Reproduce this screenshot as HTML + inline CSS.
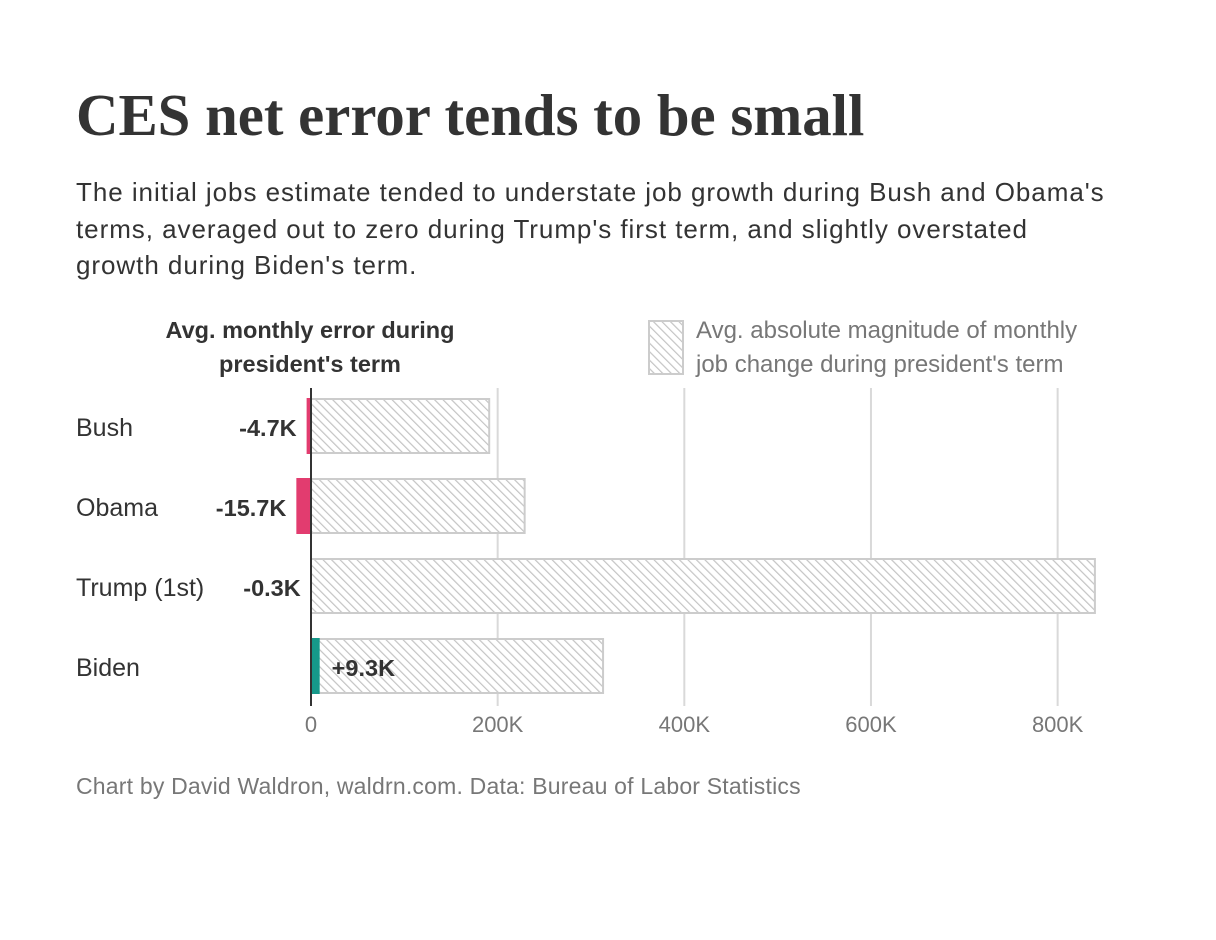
<!DOCTYPE html>
<html><head><meta charset="utf-8"><style>
body{margin:0;background:#fff;width:1216px;height:940px;overflow:hidden;font-family:"Liberation Sans",sans-serif}
#t{position:absolute;left:76px;top:82px;font-family:"Liberation Serif",serif;font-weight:bold;font-size:58.8px;color:#333;margin:0;white-space:nowrap}
#s{position:absolute;left:76px;top:174px;font-size:26px;letter-spacing:0.95px;line-height:36.5px;color:#333;white-space:nowrap}
#c{position:absolute;left:0;top:0}
#f{position:absolute;left:76px;top:773px;font-size:23px;letter-spacing:0.2px;color:#777;white-space:nowrap}
</style></head><body>
<h1 id="t">CES net error tends to be small</h1>
<div id="s">The initial jobs estimate tended to understate job growth during Bush and Obama's<br>terms, averaged out to zero during Trump's first term, and slightly overstated<br>growth during Biden's term.</div>
<svg id="c" width="1216" height="940" font-family="Liberation Sans, sans-serif">
<defs><pattern id="h" width="6" height="6" patternUnits="userSpaceOnUse" patternTransform="rotate(-45)"><rect width="6" height="6" fill="#fff"/><line x1="0" y1="0" x2="0" y2="6" stroke="#c4c4c4" stroke-width="2.4"/></pattern></defs>
<g id="g"></g>
</svg>
<div id="f">Chart by David Waldron, waldrn.com. Data: Bureau of Labor Statistics</div>
<script>
const categories=["Bush","Obama","Trump (1st)","Biden"];
const magnitude=[192,230,841,314];
const netError=[-4.7,-15.7,-0.3,9.3];
const errorLabels=["-4.7K","-15.7K","-0.3K","+9.3K"];
const ticks=[0,200,400,600,800];
const tickLabels=["0","200K","400K","600K","800K"];
const NS="http://www.w3.org/2000/svg",g=document.getElementById('g');
const x=v=>311+v*0.9333;
const y=i=>398+i*80;
function mk(t,a,txt){const e=document.createElementNS(NS,t);for(const k in a)e.setAttribute(k,a[k]);if(txt!=null)e.textContent=txt;g.appendChild(e);return e;}
ticks.forEach((t,i)=>{
 if(i>0){const l=mk('line',{x1:x(t),x2:x(t),y1:388,y2:706,stroke:'#d9d9d9','stroke-width':2});
 
 }
 const tx=mk('text',{x:x(t),y:732,'text-anchor':'middle','font-size':22,fill:'#777'},tickLabels[i]);
 
 
});
categories.forEach((c,i)=>{
 const b=mk('rect',{x:x(0),y:y(i)+1,width:x(magnitude[i])-x(0)-1,height:54,fill:'url(#h)',stroke:'#ccc','stroke-width':2});
 
 
 const v=netError[i],x0=Math.min(x(0),x(v)),w=Math.abs(x(v)-x(0));
 const e=mk('rect',{x:x0,y:y(i),width:w,height:56,fill:v<0?'#e23c6f':'#16998a'});
 
 
 const lab=mk('text',{x:76,y:y(i)+38,'font-size':25,fill:'#333'},c);
 
 
 const vl=v<0?mk('text',{x:x0-10,y:y(i)+38,'font-size':23.5,'font-weight':'bold',fill:'#333','text-anchor':'end'},errorLabels[i])
            :mk('text',{x:x(v)+12,y:y(i)+38,'font-size':23.5,'font-weight':'bold',fill:'#333'},errorLabels[i]);
 
 
});
const ax=mk('line',{x1:311,x2:311,y1:388,y2:706,stroke:'#333','stroke-width':2});


const l1=mk('text',{x:310,y:338,'font-size':23.5,'font-weight':'bold',fill:'#333','text-anchor':'middle'},'Avg. monthly error during');


const l2=mk('text',{x:310,y:372,'font-size':23.5,'font-weight':'bold',fill:'#333','text-anchor':'middle'},"president's term");


const sw=mk('rect',{x:649,y:321,width:34,height:53,fill:'url(#h)',stroke:'#ccc','stroke-width':2});


const m1=mk('text',{x:696,y:338,'font-size':24,fill:'#777'},'Avg. absolute magnitude of monthly');


const m2=mk('text',{x:696,y:372,'font-size':24,fill:'#777'},"job change during president's term");


</script>
</body></html>
